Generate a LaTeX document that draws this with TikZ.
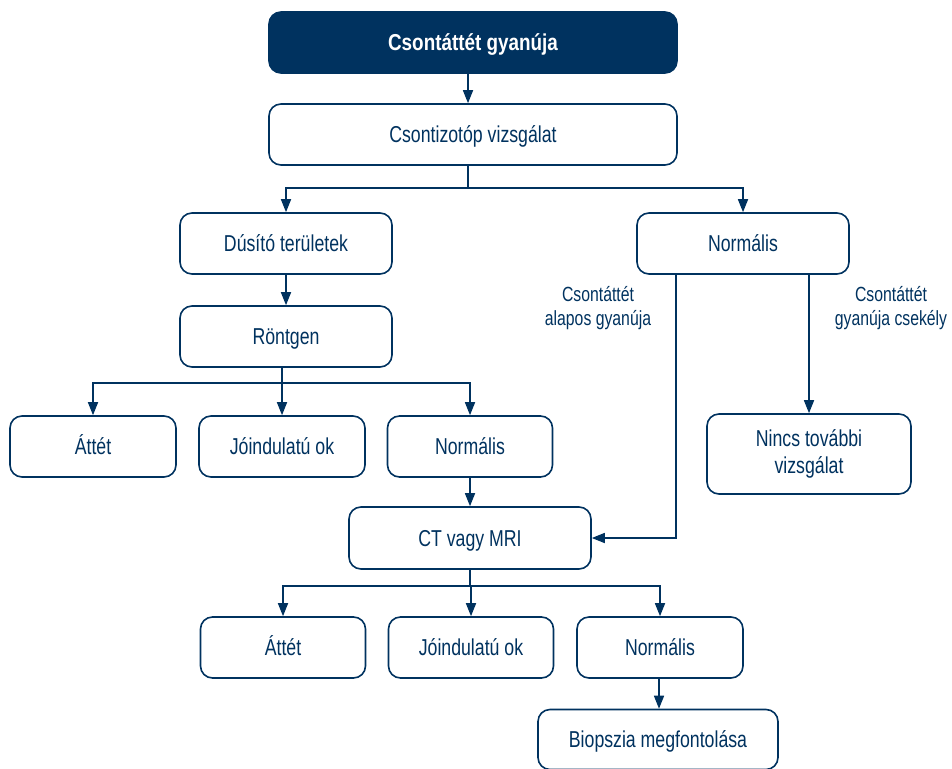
\documentclass[tikz,border=0pt]{standalone}
\usepackage{fontspec}
\setmainfont{Liberation Sans}[FakeStretch=0.77]
\newfontfamily\titlefont{Liberation Sans}[FakeStretch=0.82]
\usetikzlibrary{arrows.meta}
\definecolor{navy}{RGB}{0,50,95}
\begin{document}
\begin{tikzpicture}[x=1pt,y=-1pt,
  box/.style={draw=navy, line width=1.6pt, rounded corners=12pt, fill=white,
    text=navy, inner sep=0pt, align=center,
    font=\fontsize{23}{27}\selectfont},
  sbox/.style={box, text height=16.5pt, text depth=0pt},
  titlebox/.style={sbox, fill=navy, text=white, font=\titlefont\bfseries\fontsize{23}{27}\selectfont},
  lab/.style={text=navy, align=center, inner sep=0pt, font=\fontsize{20.5}{24.5}\selectfont},
  conn/.style={draw=navy, line width=1.6pt},
  arr/.style={conn, -{Triangle[width=10pt,length=13pt]}}]
\useasboundingbox (0,0) rectangle (952,768);
\node[titlebox, minimum width=408pt, minimum height=61pt] (top) at (473,42.5) {Csontáttét gyanúja};
\node[sbox, minimum width=408pt, minimum height=61pt] (iso) at (473,134.5) {Csontizotóp vizsgálat};
\node[sbox, minimum width=212pt, minimum height=61pt] (dus) at (286,243.5) {Dúsító területek};
\node[sbox, minimum width=212pt, minimum height=61pt] (norm1) at (743,243.5) {Normális};
\node[sbox, minimum width=212pt, minimum height=61pt] (ront) at (286,336.5) {Röntgen};
\node[sbox, minimum width=166pt, minimum height=61pt] (att1) at (93,446.5) {Áttét};
\node[sbox, minimum width=166pt, minimum height=61pt] (jo1) at (282,446.5) {Jóindulatú ok};
\node[sbox, minimum width=165pt, minimum height=61pt] (norm2) at (470,446.5) {Normális};
\node[sbox, minimum width=242pt, minimum height=62pt] (ct) at (470,538) {CT vagy MRI};
\node[box, minimum width=204pt, minimum height=80pt] (nincs) at (809,454) {Nincs további\\vizsgálat};
\node[sbox, minimum width=165pt, minimum height=61pt] (att2) at (283,647.5) {Áttét};
\node[sbox, minimum width=165pt, minimum height=61pt] (jo2) at (471,647.5) {Jóindulatú ok};
\node[sbox, minimum width=166pt, minimum height=61pt] (norm3) at (660,647.5) {Normális};
\node[sbox, minimum width=240pt, minimum height=60pt] (bio) at (658,739.5) {Biopszia megfontolása};
\node[lab] (lab1) at (598,308) {Csontáttét\\alapos gyanúja};
\node[lab] (lab2) at (891,308) {Csontáttét\\gyanúja csekély};
\coordinate (j1) at (468,188);
\coordinate (j2) at (282,383);
\coordinate (j3) at (470,586);
\coordinate (r1) at (676,0);
\draw[arr] ([xshift=-5pt]top.south) -- ([xshift=-5pt]iso.north);
\draw[conn] (iso.south -| j1) -- (j1);
\draw[arr] (j1) -| (dus.north);
\draw[arr] (j1) -| (norm1.north);
\draw[arr] (dus.south) -- (ront.north);
\draw[conn] (ront.south -| j2) -- (j2);
\draw[arr] (j2) -| (att1.north);
\draw[arr] (j2) -- (jo1.north);
\draw[arr] (j2) -| (norm2.north);
\draw[arr] (norm2.south) -- (ct.north);
\draw[arr] (norm1.south -| r1) |- (ct.east);
\draw[arr] (norm1.south -| nincs.north) -- (nincs.north);
\draw[conn] (ct.south) -- (j3);
\draw[arr] (j3) -| (att2.north);
\draw[arr] (j3) -| (jo2.north);
\draw[arr] (j3) -| (norm3.north);
\draw[arr] ([xshift=-1pt]norm3.south) -- ([xshift=-1pt]norm3.south |- bio.north);
\end{tikzpicture}
\end{document}
